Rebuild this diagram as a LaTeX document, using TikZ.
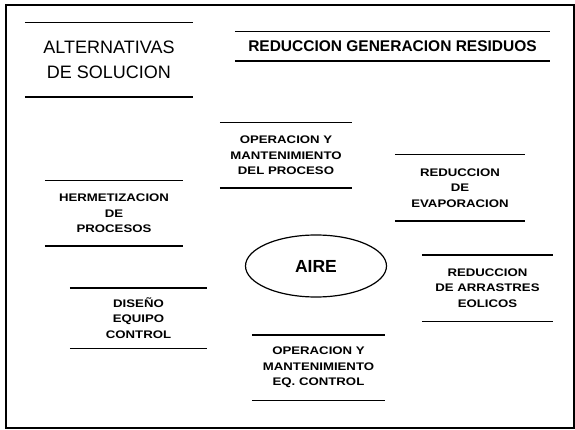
\documentclass[tikz,border=0pt]{standalone}
\usepackage{fontspec}
\setmainfont{Liberation Sans}
\newfontfamily\widefont[FakeStretch=1.2]{Liberation Sans}
\usetikzlibrary{shapes.geometric}
\tikzset{
  rule/.style={draw=black,line width=1.4pt},
  rules/.style={append after command={
    (\tikzlastnode.north west) edge[rule] (\tikzlastnode.north east)
    (\tikzlastnode.south west) edge[rule] (\tikzlastnode.south east)}},
  smallbox/.style={rules,inner sep=0pt,align=center,
    font=\widefont\bfseries\fontsize{11}{15.5}\selectfont},
  frame/.style={draw=black,line width=2pt},
}
\begin{document}
\begin{tikzpicture}[x=1pt,y=-1pt]
\useasboundingbox (0,0) rectangle (575,430);
\draw[frame] (6,5) rectangle (574,428);

\node[rules,inner sep=0pt,align=center,minimum width=168,minimum height=74,
  font=\fontsize{18}{25}\selectfont] (alt) at (109,60) {ALTERNATIVAS\\DE SOLUCION};
\node[rules,inner sep=0pt,minimum width=315,minimum height=29,
  font=\bfseries\fontsize{15.5}{18}\selectfont] (rgr) at (392.5,46.5) {REDUCCION GENERACION RESIDUOS};

\node[smallbox,minimum width=132,minimum height=65] (opp) at (286,155.5)
  {OPERACION Y\\MANTENIMIENTO\\DEL PROCESO};
\node[smallbox,minimum width=130,minimum height=66] (evap) at (460,188)
  {REDUCCION\\DE\\EVAPORACION};
\node[smallbox,minimum width=138,minimum height=65] (herm) at (114,213.5)
  {HERMETIZACION\\DE\\PROCESOS};
\node[draw=black,line width=1.2pt,ellipse,minimum width=141,minimum height=62,inner sep=0pt,
  font=\bfseries\fontsize{17.5}{20}\selectfont] (aire) at (316,266) {AIRE};
\node[smallbox,minimum width=131,minimum height=66] (arr) at (487.5,288)
  {REDUCCION\\DE ARRASTRES\\EOLICOS};
\node[smallbox,minimum width=137,minimum height=60] (dis) at (138.5,318)
  {DISEÑO\\EQUIPO\\CONTROL};
\node[smallbox,minimum width=133,minimum height=65] (opc) at (318.5,367.5)
  {OPERACION Y\\MANTENIMIENTO\\EQ. CONTROL};
\end{tikzpicture}
\end{document}
